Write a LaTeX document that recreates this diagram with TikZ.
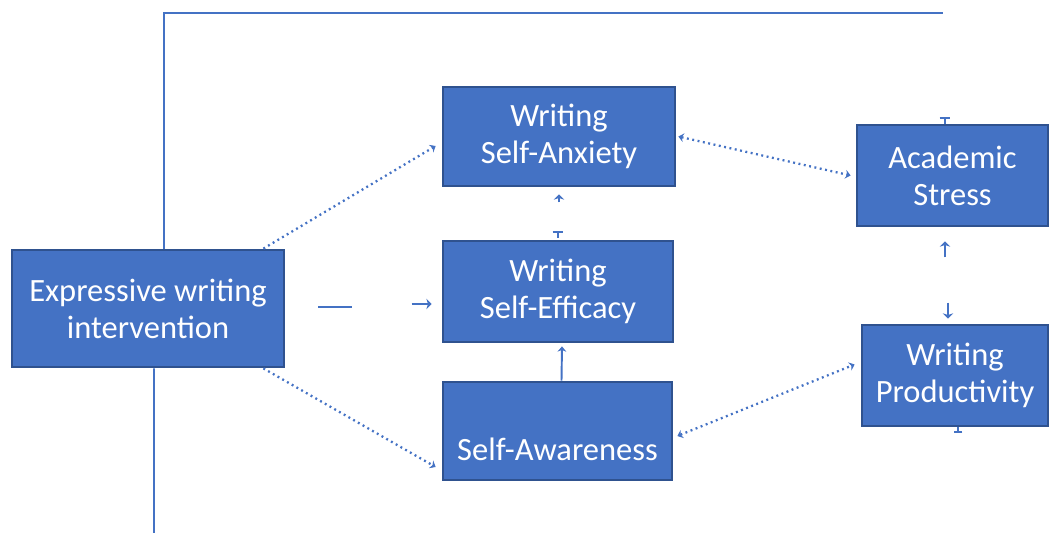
\documentclass[tikz,border=0pt]{standalone}
\usepackage{fontspec}
\setmainfont{Carlito}
\usetikzlibrary{arrows.meta, calc}
\definecolor{boxBlue}{HTML}{4472C4}
\definecolor{boxEdge}{HTML}{2F528F}
\tikzset{
  box/.style={draw=boxEdge, fill=boxBlue, line width=1.6pt, text=white,
              align=center, font=\fontsize{18.5}{21}\selectfont, inner sep=0pt},
  link/.style={draw=boxBlue, line width=1.1pt},
  dotlink/.style={link, dotted, line width=1.3pt},
  tipto/.style={-{Stealth[length=3pt, width=5pt]}},
  tipboth/.style={{Stealth[length=3pt, width=5pt]}-{Stealth[length=3pt, width=5pt]}},
  stub/.style={link, -{Stealth[length=3pt, width=6pt]}},
}
\begin{document}
\begin{tikzpicture}[x=0.02cm, y=-0.02cm]
\useasboundingbox (0,0) rectangle (1049,533);
% boxes
\node[box, minimum width=5.44cm, minimum height=2.34cm] (expr) at (148,308.5) {Expressive writing\\intervention};
\node[box, minimum width=4.64cm, minimum height=1.98cm] (anx) at (559,136.5) {Writing\\Self-Anxiety};
\node[box, minimum width=4.60cm, minimum height=2.02cm] (eff) at (558,291.5) {Writing\\Self-Efficacy};
\node[box, minimum width=4.58cm, minimum height=1.96cm, text height=1.18cm, text depth=0pt] (awa) at (557.5,431) {Self-Awareness};
\node[box, minimum width=3.82cm, minimum height=2.02cm] (acad) at (952.5,175.5) {Academic\\Stress};
\node[box, minimum width=3.72cm, minimum height=2.02cm] (prod) at (955,375.5) {Writing\\Productivity};
% free ends
\coordinate (topR) at (943,13);
\coordinate (botE) at (154,533);
\coordinate (dashA) at (318,307);
\coordinate (dashB) at (352,307);
% solid lines
\draw[link] ([xshift=0.32cm]expr.north) |- (topR);
\draw[link] ([xshift=0.12cm]expr.south) -- (botE);
\draw[link] (dashA) -- (dashB);
\draw[link, tipto] ([xshift=0.08cm]awa.north) -- ([xshift=0.08cm,yshift=-0.06cm]eff.south);
% dotted links
\draw[dotlink, tipto] ([xshift=-0.44cm]expr.north east) -- ([xshift=-0.12cm,yshift=-0.19cm]anx.west);
\draw[dotlink, tipto] ([xshift=-0.44cm]expr.south east) -- ([xshift=-0.12cm,yshift=-0.72cm]awa.west);
\draw[dotlink, tipboth] ([xshift=0.04cm]anx.east) -- ([xshift=-0.1cm]acad.west);
\draw[dotlink, tipboth] ([xshift=0.08cm,yshift=-0.1cm]awa.east) -- ([xshift=-0.12cm,yshift=0.22cm]prod.west);
% small marks
\draw[stub] ([xshift=-0.6cm,yshift=-0.25cm]eff.west) -- ([xshift=-0.2cm,yshift=-0.25cm]eff.west);
\draw[stub] ([yshift=-0.3cm]anx.south) -- ([yshift=-0.14cm]anx.south);
\draw[link, -{Bar[width=6pt]}] ([yshift=0.04cm]eff.north) -- ([yshift=0.18cm]eff.north);
\draw[link, -{Bar[width=6pt]}] ([xshift=-0.15cm]acad.north) -- ([xshift=-0.15cm,yshift=0.14cm]acad.north);
\draw[stub] ([xshift=-0.15cm,yshift=-0.6cm]acad.south) -- ([xshift=-0.15cm,yshift=-0.28cm]acad.south);
\draw[stub] ([xshift=-0.14cm,yshift=0.42cm]prod.north) -- ([xshift=-0.14cm,yshift=0.1cm]prod.north);
\draw[link, -{Bar[width=5pt]}] ([xshift=0.06cm]prod.south) -- ([xshift=0.06cm,yshift=-0.12cm]prod.south);
\end{tikzpicture}
\end{document}
